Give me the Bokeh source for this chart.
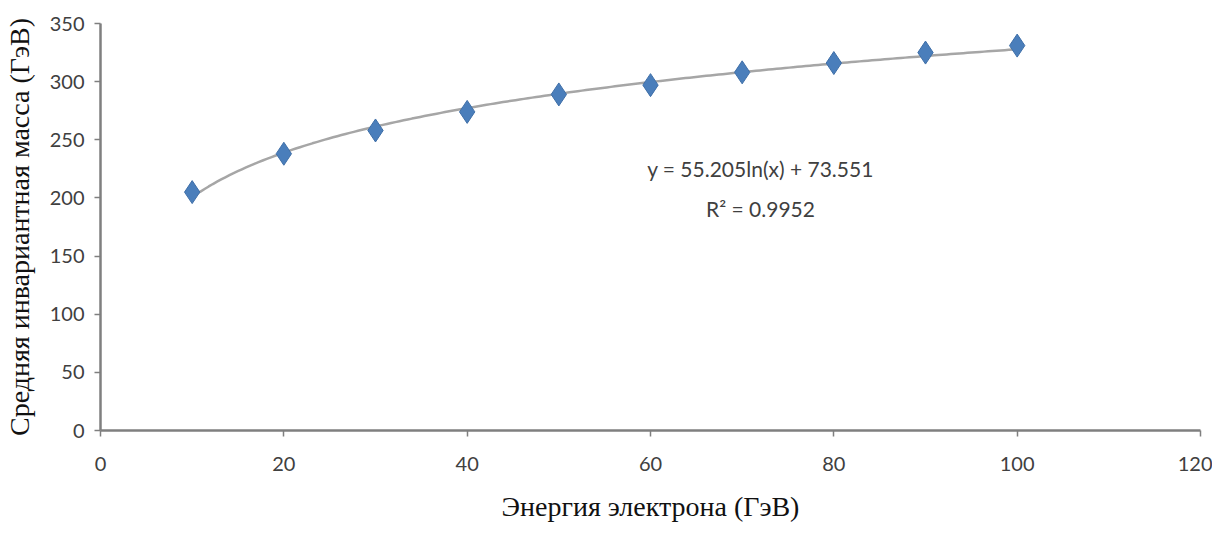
import numpy as np
from bokeh.plotting import figure
from bokeh.models import Range1d, FixedTicker, ColumnDataSource
from bokeh.core.properties import value
from bokeh.embed import file_html
from bokeh.resources import INLINE

energy = [10, 20, 30, 40, 50, 60, 70, 80, 90, 100]
mass = [205, 238, 258, 274, 289, 297, 308, 316, 325, 331]
x_ticks = [0, 20, 40, 60, 80, 100, 120]
y_ticks = [0, 50, 100, 150, 200, 250, 300, 350]
eq_text = "y = 55.205ln(x) + 73.551"
r2_text = "R² = 0.9952"

# logarithmic trend line fitted to the data
b, a = np.polyfit(np.log(energy), mass, 1)
xs = np.linspace(min(energy), max(energy), 200)
ys = b * np.log(xs) + a

W, H = 1212, 528
p = figure(width=W, height=H, output_backend="svg", toolbar_location=None,
           x_range=Range1d(0, 120), y_range=Range1d(0, 350))
p.min_border_left = 98
p.min_border_right = 12
p.min_border_top = 23
p.min_border_bottom = 98
p.outline_line_color = None
p.xgrid.visible = False
p.ygrid.visible = False
p.background_fill_color = "white"
p.border_fill_color = "white"

p.line(xs, ys, line_color="#A6A6A6", line_width=2.5)
src = ColumnDataSource(dict(x=energy, y=mass))
p.scatter("x", "y", source=src, marker="diamond", size=23,
          fill_color="#4A7EBB", line_color="#3F6FA8", line_width=1)

p.text(x=[72.0, 72.0], y=[225.5, 190.5], text=[eq_text, r2_text],
       text_align="center", text_baseline="middle",
       text_font=value("Lato"), text_font_size="21px", text_color="#404040")

for ax in (p.xaxis[0], p.yaxis[0]):
    ax.axis_line_color = "#7F7F7F"
    ax.axis_line_width = 2.5
    ax.major_tick_line_color = "#7F7F7F"
    ax.major_tick_line_width = 1.5
    ax.major_tick_in = 0
    ax.major_tick_out = 6
    ax.minor_tick_line_color = None
    ax.major_label_text_font = "Lato"
    ax.major_label_text_font_size = "20px"
    ax.major_label_text_color = "#404040"
    ax.axis_label_text_font = "Liberation Serif"
    ax.axis_label_text_font_size = "28px"
    ax.axis_label_text_font_style = "normal"
    ax.axis_label_text_color = "#111111"

p.xaxis.ticker = FixedTicker(ticks=x_ticks)
p.yaxis.ticker = FixedTicker(ticks=y_ticks)
p.xaxis.axis_label = "Энергия электрона (ГэВ)"
p.yaxis.axis_label = "Средняя инвариантная масса (ГэВ)"
p.xaxis.major_label_standoff = 20
p.xaxis.axis_label_standoff = 17
p.yaxis.major_label_standoff = 10
p.yaxis.axis_label_standoff = 12

open("out.html", "w").write(file_html(p, INLINE))
